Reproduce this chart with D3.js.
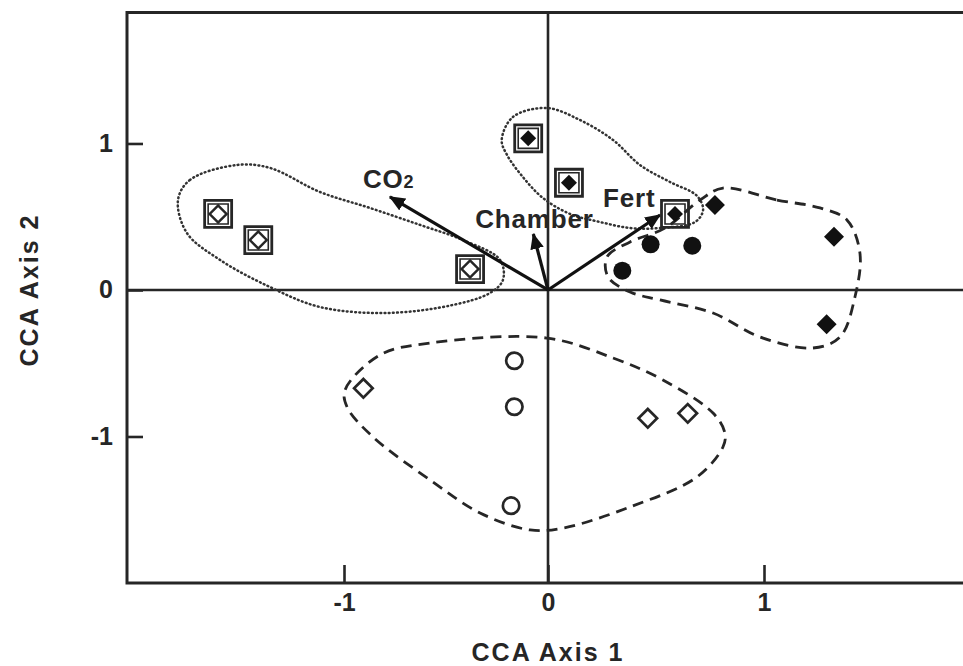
<!DOCTYPE html>
<html>
<head>
<meta charset="utf-8">
<script src="https://cdn.jsdelivr.net/npm/d3@7"></script>
<style>
    body { margin: 0; background: #fff; }
    text { font-family: "Liberation Sans", Arial, Helvetica, sans-serif; font-weight: bold; fill: #262626; }
</style>
</head>
<body>
<div id="graph"></div>
<script>
// values (CCA axis units)
const xTicks = [-1, 0, 1];
const yTicks = [-1, 0, 1];

const openCircles = [[-0.165, -0.483], [-0.165, -0.797], [-0.181, -1.472]];
const openDiamonds = [[-0.905, -0.671], [0.462, -0.876], [0.647, -0.842]];
const filledCircles = [[0.475, 0.312], [0.668, 0.302], [0.344, 0.132]];
const filledDiamonds = [[0.773, 0.580], [1.324, 0.364], [1.290, -0.234]];
const boxedOpenDiamonds = [[-1.580, 0.519], [-1.395, 0.341], [-0.382, 0.143]];
const boxedFilledDiamonds = [[-0.097, 1.035], [0.097, 0.732], [0.588, 0.519]];

const vectorNames = ["CO", "Chamber", "Fert"];
const vectorX = [-0.775, -0.072, 0.519];
const vectorY = [0.635, 0.382, 0.512];

// group outlines
const hullCO2 = [[-1.765, 0.614], [-1.710, 0.751], [-1.494, 0.853], [-1.341, 0.833], [-1.111, 0.669],
    [-0.873, 0.560], [-0.627, 0.444], [-0.417, 0.341], [-0.235, 0.205], [-0.221, 0.068], [-0.284, -0.020],
    [-0.466, -0.102], [-0.789, -0.157], [-1.111, -0.116], [-1.341, 0.020], [-1.571, 0.205], [-1.724, 0.389]];
const hullUpper = [[-0.227, 1.024], [-0.172, 1.181], [-0.006, 1.242], [0.148, 1.160], [0.301, 1.024],
    [0.426, 0.853], [0.565, 0.737], [0.690, 0.642], [0.718, 0.546], [0.681, 0.464], [0.519, 0.423],
    [0.380, 0.423], [0.241, 0.464], [0.102, 0.519], [-0.025, 0.628], [-0.123, 0.771], [-0.201, 0.922]];
const hullRight = [[0.810, 0.696], [1.060, 0.614], [1.259, 0.560], [1.384, 0.478], [1.444, 0.253],
    [1.421, -0.048], [1.352, -0.321], [1.227, -0.396], [0.981, -0.321], [0.764, -0.157], [0.519, -0.068],
    [0.380, -0.014], [0.278, 0.089], [0.273, 0.225], [0.380, 0.328], [0.542, 0.423], [0.704, 0.614]];
const hullLower = [[-0.006, -0.328], [0.301, -0.464], [0.532, -0.614], [0.764, -0.840], [0.819, -0.976],
    [0.810, -1.072], [0.690, -1.276], [0.380, -1.481], [0.069, -1.625], [-0.088, -1.638], [-0.333, -1.522],
    [-0.578, -1.297], [-0.858, -1.003], [-0.985, -0.799], [-0.995, -0.683], [-0.824, -0.444], [-0.578, -0.362]];

const width = 963, height = 666;
const ink = "#262626";

let svg = d3.select("#graph").append("svg")
    .attr("width", width)
    .attr("height", height);

// the scanned figure is slightly uneven horizontally, so a piecewise scale
let x = d3.scaleLinear()
    .domain([-2, -1, 0, 1, 2])
    .range([127, 344, 548, 764, 980]);

let y = d3.scaleLinear()
    .domain([-2, 1.894])
    .range([583, 12.5]);

// zero lines
svg.append("line")
    .attr("x1", x(-2)).attr("x2", x(2))
    .attr("y1", y(0)).attr("y2", y(0))
    .attr("stroke", ink).attr("stroke-width", 2.6);
svg.append("line")
    .attr("x1", x(0)).attr("x2", x(0))
    .attr("y1", y(-2)).attr("y2", y(1.894))
    .attr("stroke", ink).attr("stroke-width", 2.6);

// axes with inward ticks
let yAxis = svg.append("g")
    .attr("transform", `translate(${x(-2)},0)`)
    .call(d3.axisLeft(y).tickValues(yTicks).tickSizeInner(-16).tickSizeOuter(0).tickPadding(14).tickFormat(d3.format("d")));
let xAxis = svg.append("g")
    .attr("transform", `translate(0,${y(-2)})`)
    .call(d3.axisBottom(x).tickValues(xTicks).tickSizeInner(-18).tickSizeOuter(0).tickPadding(10).tickFormat(d3.format("d")));

[xAxis, yAxis].forEach(g => {
    g.select(".domain").remove();
    g.selectAll(".tick line").attr("stroke", ink).attr("stroke-width", 2.6);
    g.selectAll(".tick text")
        .attr("font-size", 25)
        .style("font-family", "'Liberation Sans', Arial, sans-serif")
        .style("font-weight", "bold")
        .attr("fill", ink)
        .text(d => d < 0 ? "-" + Math.abs(d) : d);
});

// frame
svg.append("rect")
    .attr("x", x(-2)).attr("y", y(1.894))
    .attr("width", x(2) - x(-2))
    .attr("height", y(-2) - y(1.894))
    .attr("fill", "none")
    .attr("stroke", ink)
    .attr("stroke-width", 3);

// outlines
let hull = d3.line()
    .x(d => x(d[0]))
    .y(d => y(d[1]))
    .curve(d3.curveCatmullRomClosed.alpha(0.5));

[hullCO2, hullUpper].forEach(h => {
    svg.append("path")
        .attr("d", hull(h))
        .attr("fill", "none")
        .attr("stroke", "#333")
        .attr("stroke-width", 2.5)
        .attr("stroke-linecap", "round")
        .attr("stroke-dasharray", "0.8 3.4");
});
[hullRight, hullLower].forEach(h => {
    svg.append("path")
        .attr("d", hull(h))
        .attr("fill", "none")
        .attr("stroke", ink)
        .attr("stroke-width", 2.8)
        .attr("stroke-dasharray", "11 7");
});

// biplot arrows
svg.append("defs").append("marker")
    .attr("id", "head")
    .attr("viewBox", "0 0 14 12")
    .attr("refX", 13).attr("refY", 6)
    .attr("markerWidth", 16).attr("markerHeight", 14)
    .attr("markerUnits", "userSpaceOnUse")
    .attr("orient", "auto")
    .append("path")
    .attr("d", "M0,0L14,6L0,12Z")
    .attr("fill", "#111");

svg.selectAll(".vector")
    .data(vectorNames)
    .enter().append("line")
    .attr("class", "vector")
    .attr("x1", x(0)).attr("y1", y(0))
    .attr("x2", (d, i) => x(vectorX[i]))
    .attr("y2", (d, i) => y(vectorY[i]))
    .attr("stroke", "#111")
    .attr("stroke-width", 3.2)
    .attr("marker-end", "url(#head)");

// site markers
let square = d3.symbol().type(d3.symbolSquare);
let circle = d3.symbol().type(d3.symbolCircle);
let pos = d => `translate(${x(d[0])},${y(d[1])})`;
let rot = d => pos(d) + " rotate(45)";

function drawSymbols(pts, gen, size, transform, fill, strokeW) {
    svg.append("g").selectAll("path")
        .data(pts)
        .enter().append("path")
        .attr("d", gen.size(size)())
        .attr("transform", transform)
        .attr("fill", fill)
        .attr("stroke", fill === "none" ? ink : "none")
        .attr("stroke-width", strokeW);
}

let boxed = boxedOpenDiamonds.concat(boxedFilledDiamonds);
drawSymbols(boxed, square, 27 * 27, pos, "none", 2.8);
drawSymbols(boxed, square, 20 * 20, pos, "none", 1.6);
drawSymbols(boxedOpenDiamonds, square, 2 * 8.5 * 8.5, rot, "none", 2.4);
drawSymbols(boxedFilledDiamonds, square, 2 * 8 * 8, rot, "#111", 0);

drawSymbols(openCircles, circle, Math.PI * 8.2 * 8.2, pos, "none", 2.7);
drawSymbols(openDiamonds, square, 2 * 9.3 * 9.3, rot, "none", 2.7);
drawSymbols(filledCircles, circle, Math.PI * 9 * 9, pos, "#111", 0);
drawSymbols(filledDiamonds, square, 2 * 10 * 10, rot, "#111", 0);

// vector labels
const labelShift = [[-27, -9], [-58, -6], [-57, -8]];
let labels = svg.selectAll(".vlabel")
    .data(vectorNames)
    .enter().append("text")
    .attr("class", "vlabel")
    .attr("x", (d, i) => x(vectorX[i]) + labelShift[i][0])
    .attr("y", (d, i) => y(vectorY[i]) + labelShift[i][1])
    .attr("font-size", 26)
    .attr("letter-spacing", 0.8)
    .text(d => d);
labels.filter(d => d === "CO").append("tspan")
    .attr("font-size", 18)
    .text("2");

// axis titles
svg.append("text")
    .attr("x", x(0))
    .attr("y", 661)
    .attr("text-anchor", "middle")
    .attr("font-size", 25)
    .attr("letter-spacing", 2)
    .text("CCA Axis 1");

svg.append("text")
    .attr("transform", `translate(38,${y(0)}) rotate(-90)`)
    .attr("text-anchor", "middle")
    .attr("font-size", 25)
    .attr("letter-spacing", 2)
    .text("CCA Axis 2");
</script>
</body>
</html>
